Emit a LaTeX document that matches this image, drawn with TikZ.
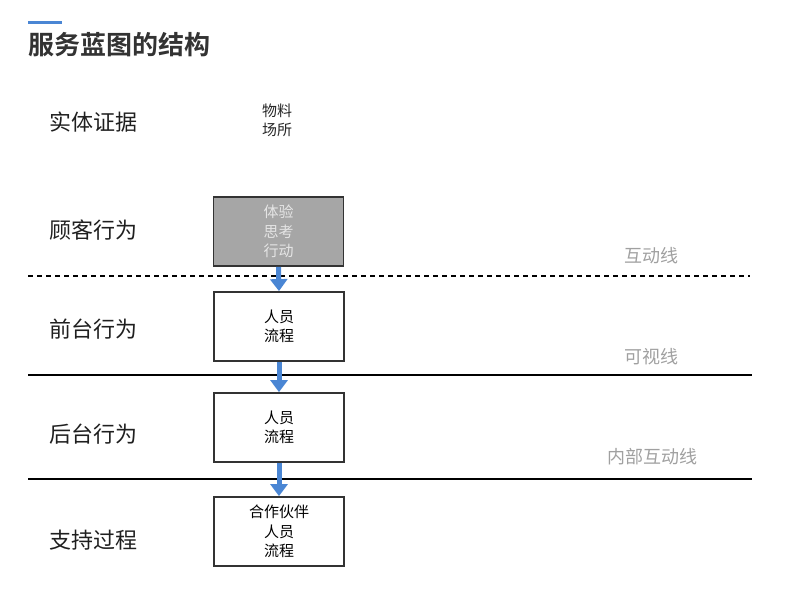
\documentclass[tikz,border=0pt]{standalone}
\usepackage{fontspec}
\setmainfont{Noto Sans CJK SC}[BoldFont={Noto Sans CJK SC Bold}]
\usetikzlibrary{arrows.meta}
\definecolor{titlec}{HTML}{333333}
\definecolor{boxgray}{HTML}{A6A6A6}
\definecolor{boxedge}{HTML}{333333}
\definecolor{linelbl}{HTML}{A0A0A0}
\definecolor{flowblue}{HTML}{4A86D4}
\tikzset{
  rowlabel/.style={anchor=west, font=\fontsize{22}{26}\selectfont, text=black!88},
  stagebox/.style={draw=boxedge, line width=1.8pt, minimum width=130pt, minimum height=69pt, align=center, font=\fontsize{15}{19.5}\selectfont, inner sep=0pt},
  linelabel/.style={font=\fontsize{18}{21}\selectfont, text=linelbl},
  flow/.style={draw=flowblue, line width=5pt, -{Triangle[width=17pt,length=12pt]}},
  sep/.style={line width=2pt, black}
}
\begin{document}
\begin{tikzpicture}[x=1pt,y=-1pt]
\useasboundingbox (0,0) rectangle (800,608);
% title
\draw[flowblue, line width=3pt] (28,22) -- (62,22);
\node[anchor=west, font=\bfseries\fontsize{26}{30}\selectfont, text=titlec] (title) at (25,45) {服务蓝图的结构};
% row labels
\node[rowlabel] (l1) at (46,122) {实体证据};
\node[rowlabel] (l2) at (46,230) {顾客行为};
\node[rowlabel] (l3) at (46,329) {前台行为};
\node[rowlabel] (l4) at (46,434) {后台行为};
\node[rowlabel] (l5) at (46,540) {支持过程};
% evidence
\node[align=center, font=\fontsize{15}{19}\selectfont, text=black!85] (ev) at (277,120) {物料\\场所};
% boxes
\node[stagebox, fill=boxgray, text=white!90!black] (cust) at (278.5,231.5) {体验\\思考\\行动};
\node[stagebox, fill=white] (front) at (279,326.5) {人员\\流程};
\node[stagebox, fill=white] (back) at (279,427.5) {人员\\流程};
\node[stagebox, fill=white] (supp) at (279,531.5) {合作伙伴\\人员\\流程};
% lines
\coordinate (d1) at (28,276); \coordinate (d2) at (750,276);
\coordinate (s1) at (28,375); \coordinate (s2) at (752,375);
\coordinate (t1) at (28,479); \coordinate (t2) at (752,479);
\draw[sep, dash pattern=on 5pt off 4pt] (d1) -- (d2);
\draw[sep] (s1) -- (s2);
\draw[sep] (t1) -- (t2);
\node[linelabel] (il) at (651,256) {互动线};
\node[linelabel] (vl) at (651,357) {可视线};
\node[linelabel] (inl) at (652,457) {内部互动线};
% arrows
\draw[flow] (cust.south) -- (front.north);
\draw[flow] (front.south) -- (back.north);
\draw[flow] (back.south) -- (supp.north);
\end{tikzpicture}
\end{document}
